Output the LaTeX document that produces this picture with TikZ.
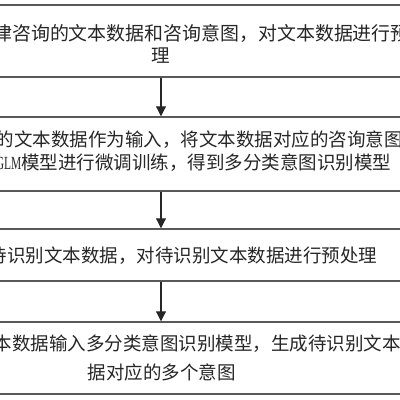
\documentclass[tikz,border=0pt]{standalone}
\usepackage{fontspec}
\usepackage{graphicx}
\newfontfamily\cjk{Noto Sans CJK SC}
\newfontfamily\latinserif{Liberation Serif}
\usetikzlibrary{arrows.meta}
\begin{document}
\begin{tikzpicture}[x=0.75pt,y=-0.75pt,
  box/.style={draw=black!65, line width=1.1pt, minimum width=420pt, inner sep=0pt},
  txt/.style={inner sep=0pt, anchor=base west, text=black!85,
    font=\cjk\fontsize{13.875pt}{16pt}\selectfont},
  txtc/.style={txt, anchor=base},
  arr/.style={-{Triangle[length=7.5pt,width=7.5pt]}, line width=0.8pt, draw=black!85}]
\useasboundingbox (0,0) rectangle (400,400);
\clip (0,0) rectangle (400,400);
% boxes
\node[box, minimum height=54pt]   (b1) at (161,41)  {};
\node[box, minimum height=55.5pt] (b2) at (161,154) {};
\node[box, minimum height=39pt]   (b3) at (161,255) {};
\node[box, minimum height=54pt]   (b4) at (161,358) {};
% texts
\node[txt, font=\cjk\fontsize{14.2pt}{16pt}\selectfont] (t1a) at (-7,40.5) {律咨询的文本数据和咨询意图，对文本数据进行预处};
\node[txtc] (t1b) at (161,62.5) {理};
\node[txt] (t2a) at (-4.4,146.5) {的文本数据作为输入，将文本数据对应的咨询意图};
\node[txt] (t2b) at (21,169.5) {\llap{\latinserif\scalebox{0.62}[1]{GLM}}模型进行微调训练，得到多分类意图识别模型};
\node[txt] (t3) at (-11.4,262.5) {待识别文本数据，对待识别文本数据进行预处理};
\node[txt] (t4a) at (-6.5,350) {本数据输入多分类意图识别模型，生成待识别文本数};
\node[txtc] (t4b) at (161.5,379) {据对应的多个意图};
% arrows
\draw[arr] (b1.south) -- (b2.north);
\draw[arr] (b2.south) -- (b3.north);
\draw[arr] (b3.south) -- (b4.north);
\end{tikzpicture}
\end{document}
